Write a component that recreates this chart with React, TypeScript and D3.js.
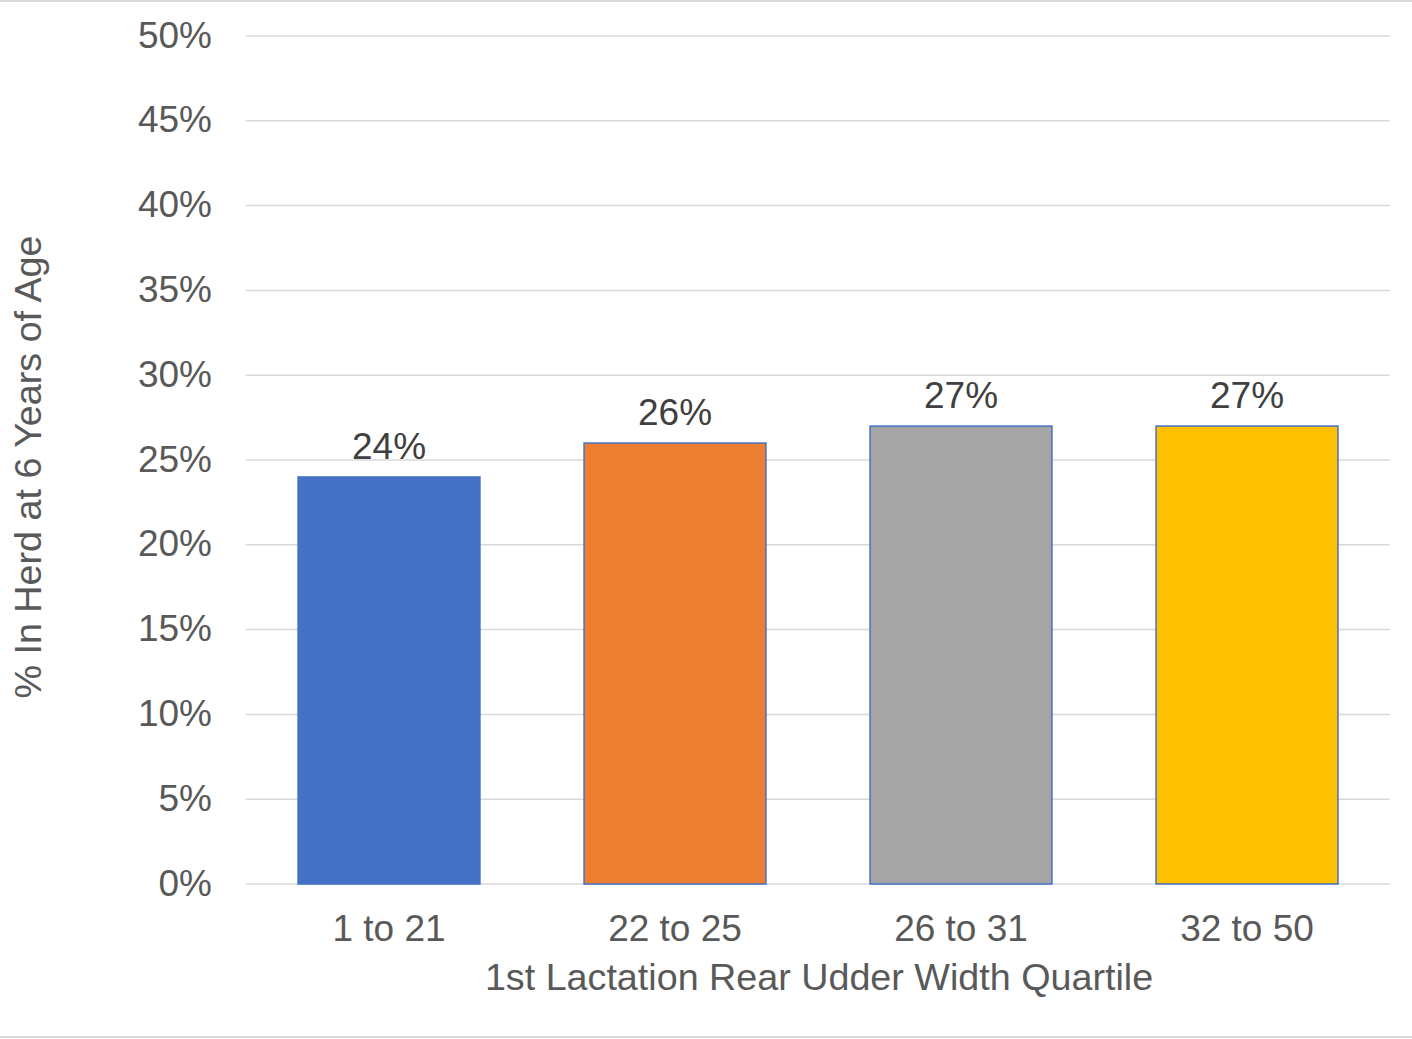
import React from "react";
import * as d3 from "d3";

const categories = ["1 to 21", "22 to 25", "26 to 31", "32 to 50"];
const values = [24, 26, 27, 27];
const colors = ["#4472C4", "#ED7D31", "#A5A5A5", "#FFC000"];
const yTicks = [0, 5, 10, 15, 20, 25, 30, 35, 40, 45, 50];
const xTitle = "1st Lactation Rear Udder Width Quartile";
const yTitle = "% In Herd at 6 Years of Age";

export default function App() {
  const W = 1412, H = 1039;
  const left = 246, right = 1390, top = 36, bottom = 884;
  const x = d3.scaleBand<string>().domain(categories).range([left, right]).paddingInner(0.364).paddingOuter(0.182);
  const y = d3.scaleLinear().domain([0, 50]).range([bottom, top]);
  const font = "Liberation Sans, Arial, sans-serif";
  const fs = 37;
  const tfs = 37.7;
  return (
    <svg width={W} height={H} style={{ position: "absolute", left: 0, top: 0, background: "#fff" }} fontFamily={font}>
      <rect x={0} y={0} width={W} height={H} fill="#fff" />
      <line x1={0} x2={W} y1={1} y2={1} stroke="#D9D9D9" strokeWidth={2} />
      <line x1={0} x2={W} y1={1037} y2={1037} stroke="#D9D9D9" strokeWidth={2} />
      {yTicks.map((t) => (
        <g key={t}>
          <line x1={left} x2={right} y1={y(t)} y2={y(t)} stroke="#D9D9D9" strokeWidth={1.5} />
          <text x={212} y={y(t) + 11.5} textAnchor="end" fontSize={fs} fill="#595959">{t}%</text>
        </g>
      ))}
      {categories.map((c, i) => (
        <g key={c}>
          <rect x={x(c)!} y={y(values[i])} width={x.bandwidth()} height={y(0) - y(values[i])} fill={colors[i]} stroke="#4472C4" strokeWidth={1.5} />
          <text x={x(c)! + x.bandwidth() / 2} y={y(values[i]) - 18} textAnchor="middle" fontSize={fs} fill="#404040">{values[i]}%</text>
          <text x={x(c)! + x.bandwidth() / 2} y={941} textAnchor="middle" fontSize={fs} fill="#595959">{c}</text>
        </g>
      ))}
      <text x={(left + right) / 2 + 1} y={990} textAnchor="middle" fontSize={tfs} fill="#595959">{xTitle}</text>
      <text transform={`translate(27,${(top + bottom) / 2 + 7}) rotate(-90)`} dy="0.36em" textAnchor="middle" fontSize={tfs} fill="#595959">{yTitle}</text>
    </svg>
  );
}
